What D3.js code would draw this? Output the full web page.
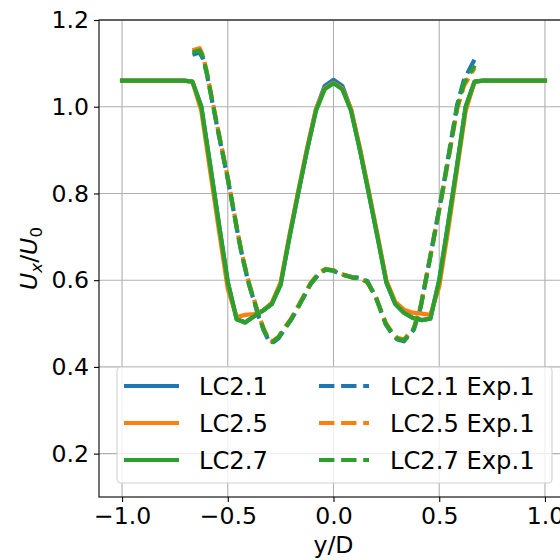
<!DOCTYPE html>
<html>
<head>
<meta charset="utf-8">
<script src="https://cdn.jsdelivr.net/npm/d3@7"></script>
<style>
  html, body { margin: 0; padding: 0; background: #fff; }
  svg { display: block; }
  text { font-family: "DejaVu Sans", sans-serif; fill: #000; }
</style>
</head>
<body>
<svg id="chart" width="560" height="560"></svg>
<script>
// ---------------- data ----------------
const simX = [-1.0, -0.708, -0.667, -0.625, -0.583, -0.542, -0.5, -0.458, -0.417, -0.375, -0.333, -0.292,
  -0.25, -0.208, -0.167, -0.125, -0.083, -0.042, 0.0, 0.042, 0.083, 0.125, 0.167, 0.208, 0.25,
  0.292, 0.333, 0.375, 0.417, 0.458, 0.5, 0.542, 0.583, 0.625, 0.667, 0.708, 1.0];
const lc21 = [1.06, 1.06, 1.058, 1.0, 0.865, 0.73, 0.596, 0.51, 0.503, 0.517, 0.53, 0.545,
  0.59, 0.70, 0.80, 0.90, 0.993, 1.048, 1.062, 1.048, 0.993, 0.90, 0.80, 0.70, 0.595,
  0.545, 0.525, 0.513, 0.508, 0.511, 0.60, 0.73, 0.86, 1.0, 1.058, 1.06, 1.06];
const lc25 = [1.06, 1.06, 1.058, 0.99, 0.85, 0.715, 0.58, 0.515, 0.52, 0.522, 0.53, 0.548,
  0.595, 0.705, 0.805, 0.905, 0.995, 1.042, 1.055, 1.042, 0.995, 0.905, 0.805, 0.705, 0.60,
  0.55, 0.532, 0.525, 0.523, 0.52, 0.585, 0.715, 0.85, 0.99, 1.058, 1.06, 1.06];
const lc27 = [1.06, 1.06, 1.058, 1.0, 0.865, 0.73, 0.596, 0.51, 0.502, 0.517, 0.53, 0.545,
  0.59, 0.70, 0.80, 0.90, 0.99, 1.04, 1.054, 1.04, 0.99, 0.90, 0.80, 0.70, 0.595,
  0.545, 0.525, 0.513, 0.508, 0.511, 0.60, 0.73, 0.86, 1.0, 1.058, 1.06, 1.06];

const expX = [-0.667, -0.633, -0.617, -0.6, -0.55, -0.5, -0.45, -0.431, -0.4, -0.376, -0.352, -0.329,
  -0.305, -0.29, -0.26, -0.242, -0.2, -0.163, -0.108, -0.069, -0.037, 0.0, 0.026, 0.089, 0.129,
  0.16, 0.2, 0.247, 0.278, 0.302, 0.333, 0.38, 0.412, 0.46, 0.514, 0.55, 0.585, 0.617, 0.668];
const lc21exp = [1.12, 1.125, 1.11, 1.078, 0.953, 0.833, 0.70, 0.654, 0.59, 0.552, 0.513, 0.483,
  0.459, 0.455, 0.466, 0.479, 0.509, 0.541, 0.591, 0.614, 0.624, 0.622, 0.615, 0.607, 0.606,
  0.598, 0.561, 0.498, 0.475, 0.463, 0.459, 0.486, 0.537, 0.66, 0.802, 0.905, 1.005, 1.062, 1.11];
const lc25exp = [1.13, 1.135, 1.118, 1.082, 0.957, 0.837, 0.702, 0.656, 0.594, 0.556, 0.517, 0.487,
  0.463, 0.459, 0.47, 0.483, 0.512, 0.544, 0.594, 0.617, 0.626, 0.623, 0.616, 0.606, 0.603,
  0.595, 0.561, 0.502, 0.479, 0.467, 0.463, 0.49, 0.54, 0.66, 0.798, 0.897, 0.995, 1.048, 1.09];
const lc27exp = [1.125, 1.13, 1.115, 1.08, 0.955, 0.835, 0.70, 0.654, 0.592, 0.554, 0.515, 0.485,
  0.461, 0.457, 0.468, 0.481, 0.51, 0.542, 0.592, 0.615, 0.625, 0.622, 0.615, 0.606, 0.604,
  0.596, 0.561, 0.50, 0.477, 0.465, 0.461, 0.488, 0.538, 0.66, 0.80, 0.90, 1.0, 1.054, 1.095];

const seriesNames = ["LC2.1", "LC2.5", "LC2.7", "LC2.1 Exp.1", "LC2.5 Exp.1", "LC2.7 Exp.1"];
const xTicks = [-1.0, -0.5, 0.0, 0.5, 1.0];
const yTicks = [0.2, 0.4, 0.6, 0.8, 1.0, 1.2];
const xLabel = "y/D";

// ---------------- layout ----------------
const colors = ["#1f77b4", "#ff7f0e", "#2ca02c"];
const plot = { left: 99, right: 568, top: 20, bottom: 497 };
const FS = 23.6;
const svg = d3.select("#chart");

const x = d3.scaleLinear().domain([-1.109, 1.109]).range([plot.left, plot.right]);
const y = d3.scaleLinear().domain([0.1, 1.2]).range([plot.bottom, plot.top]);

const fmtTick = v => d3.format(".1f")(v).replace("-", "\u2212");

// grid
const grid = svg.append("g");
grid.selectAll(".gx").data(xTicks).join("line")
  .attr("x1", d => x(d)).attr("x2", d => x(d))
  .attr("y1", plot.top).attr("y2", plot.bottom)
  .attr("stroke", "#b0b0b0").attr("stroke-width", 1.1);
grid.selectAll(".gy").data(yTicks).join("line")
  .attr("x1", plot.left).attr("x2", plot.right)
  .attr("y1", d => y(d)).attr("y2", d => y(d))
  .attr("stroke", "#b0b0b0").attr("stroke-width", 1.1);

// lines
svg.append("clipPath").attr("id", "clip").append("rect")
  .attr("x", plot.left).attr("y", plot.top)
  .attr("width", plot.right - plot.left).attr("height", plot.bottom - plot.top);
const lineGen = xs => d3.line().x((d, i) => x(xs[i])).y(d => y(d));
const lines = svg.append("g").attr("clip-path", "url(#clip)");
const simSeries = [lc21, lc25, lc27];
const expSeries = [lc21exp, lc25exp, lc27exp];
simSeries.forEach((s, i) => {
  lines.append("path").attr("d", lineGen(simX)(s))
    .attr("fill", "none").attr("stroke", colors[i]).attr("stroke-width", 4.2)
    .attr("stroke-linejoin", "round").attr("stroke-linecap", "square");
});
expSeries.forEach((s, i) => {
  lines.append("path").attr("d", lineGen(expX)(s))
    .attr("fill", "none").attr("stroke", colors[i]).attr("stroke-width", 4.2)
    .attr("stroke-linejoin", "round").attr("stroke-linecap", "butt")
    .attr("stroke-dasharray", "15.4,6.7");
});

// axes
const xAxis = d3.axisBottom(x).tickValues(xTicks).tickFormat(fmtTick).tickSize(5).tickPadding(5);
const yAxis = d3.axisLeft(y).tickValues(yTicks).tickFormat(fmtTick).tickSize(5).tickPadding(5);
const gx = svg.append("g").attr("transform", `translate(0,${plot.bottom})`).call(xAxis);
const gy = svg.append("g").attr("transform", `translate(${plot.left},0)`).call(yAxis);
[gx, gy].forEach(g => {
  g.select(".domain").remove();
  g.selectAll(".tick line").attr("stroke", "#000").attr("stroke-width", 1.1);
  g.selectAll(".tick text").attr("font-size", FS).attr("font-family", "DejaVu Sans").attr("fill", "#000");
});

// spines
svg.append("rect").attr("x", plot.left).attr("y", plot.top)
  .attr("width", plot.right - plot.left).attr("height", plot.bottom - plot.top)
  .attr("fill", "none").attr("stroke", "#000").attr("stroke-width", 1.1);

// axis labels
svg.append("text").attr("x", (plot.left + plot.right) / 2).attr("y", 553)
  .attr("text-anchor", "middle").attr("font-size", FS).text(xLabel);

const yl = svg.append("text").attr("transform", `translate(37,${(plot.top + plot.bottom) / 2}) rotate(-90)`)
  .attr("text-anchor", "middle").attr("font-size", FS);
yl.append("tspan").attr("font-style", "italic").text("U");
yl.append("tspan").attr("font-style", "italic").attr("font-size", FS * 0.7).attr("dy", 4.5).text("x");
yl.append("tspan").attr("dy", -4.5).text("/");
yl.append("tspan").attr("font-style", "italic").text("U");
yl.append("tspan").attr("font-size", FS * 0.7).attr("dy", 4.5).text("0");

// legend
const leg = svg.append("g");
leg.append("rect").attr("x", 117).attr("y", 367).attr("width", 435).attr("height", 116)
  .attr("rx", 4).attr("fill", "#fff").attr("fill-opacity", 0.8)
  .attr("stroke", "#d0d0d0").attr("stroke-width", 1.1);
const rowY = [386, 423, 460];
seriesNames.forEach((name, i) => {
  const col = Math.floor(i / 3), row = i % 3;
  const hx0 = col === 0 ? 124 : 319, hx1 = col === 0 ? 179 : 369, tx = col === 0 ? 199 : 390;
  const ln = leg.append("line").attr("x1", hx0).attr("x2", hx1)
    .attr("y1", rowY[row]).attr("y2", rowY[row])
    .attr("stroke", colors[row]).attr("stroke-width", 4.2);
  if (col === 1) ln.attr("stroke-dasharray", "15.4,6.7");
  leg.append("text").attr("x", tx).attr("y", rowY[row] + 8.5).attr("font-size", 24.2).text(name);
});
</script>
</body>
</html>
